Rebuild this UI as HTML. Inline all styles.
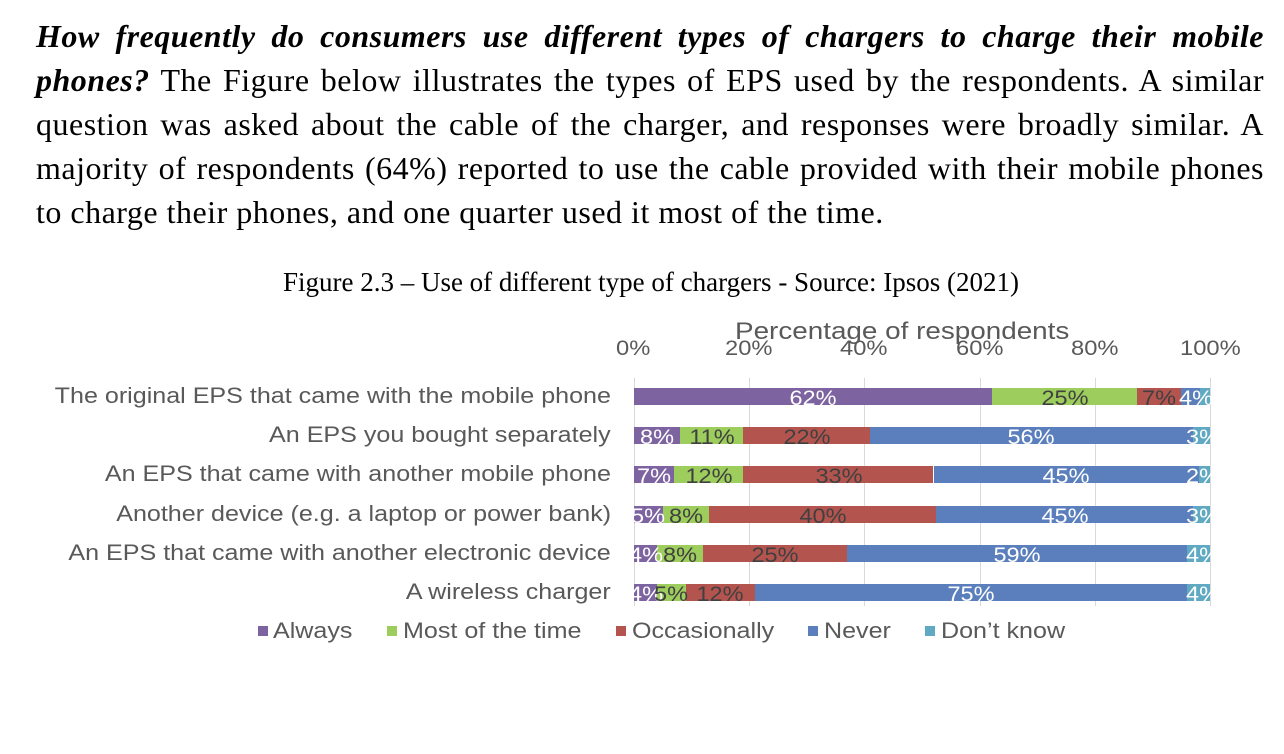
<!DOCTYPE html>
<html><head><meta charset="utf-8"><style>
body{margin:0;width:1284px;height:754px;background:#fff;position:relative;overflow:hidden;font-family:"Liberation Sans",sans-serif}
.p{position:absolute;left:36px;width:1228px;font-family:"Liberation Serif",serif;font-size:32px;letter-spacing:0.5px;line-height:44px;color:#000;top:14px}
.p div{text-align:justify;text-align-last:justify;white-space:nowrap}
.p div.last{text-align-last:left}
.a{position:absolute;white-space:nowrap}
.cat{position:absolute;right:673px;font-size:22px;color:#595959;white-space:nowrap;line-height:26px;transform:scaleX(1.14);transform-origin:right center}
.tick{position:absolute;top:336px;font-size:21px;color:#595959;line-height:26px;transform:scaleX(1.13);transform-origin:left center}
.g{position:absolute;top:378px;height:228px;width:1px;background:#d9d9d9}
.s{position:absolute;height:17px;line-height:17px}
.l{position:absolute;font-size:21px;line-height:17px;white-space:nowrap;transform:translateX(-50%) scaleX(1.12)}
.w{color:#fff}.d{color:#404040}
.lg{position:absolute;top:619px;font-size:22px;color:#595959;line-height:24px;transform:scaleX(1.14);transform-origin:left center;white-space:nowrap}
.sq{position:absolute;top:626px;width:10px;height:10px}
</style></head><body>
<div class="p">
<div><b><i>How frequently do consumers use different types of chargers to charge their mobile</i></b></div>
<div><b><i>phones?</i></b> The Figure below illustrates the types of EPS used by the respondents. A similar</div>
<div>question was asked about the cable of the charger, and responses were broadly similar. A</div>
<div>majority of respondents (64%) reported to use the cable provided with their mobile phones</div>
<div class="last">to charge their phones, and one quarter used it most of the time.</div>
</div>
<div class="a" style="left:0;width:1302px;text-align:center;top:266px;font-family:'Liberation Serif',serif;font-size:27px;line-height:32px">Figure 2.3 – Use of different type of chargers - Source: Ipsos (2021)</div>
<div class="a" style="left:735px;top:318px;font-size:24px;color:#595959;transform:scaleX(1.16);transform-origin:left center">Percentage of respondents</div>
<div class="tick" style="left:616px">0%</div>
<div class="tick" style="left:725px">20%</div>
<div class="tick" style="left:840px">40%</div>
<div class="tick" style="left:956px">60%</div>
<div class="tick" style="left:1071px">80%</div>
<div class="tick" style="left:1180px">100%</div>
<div class="g" style="left:634px"></div><div class="g" style="left:749px"></div><div class="g" style="left:864px"></div><div class="g" style="left:980px"></div><div class="g" style="left:1095px"></div><div class="g" style="left:1210px"></div>
<div class="cat" style="top:383px">The original EPS that came with the mobile phone</div>
<div class="cat" style="top:422px">An EPS you bought separately</div>
<div class="cat" style="top:461px">An EPS that came with another mobile phone</div>
<div class="cat" style="top:501px">Another device (e.g. a laptop or power bank)</div>
<div class="cat" style="top:540px">An EPS that came with another electronic device</div>
<div class="cat" style="top:579px">A wireless charger</div>
<div id="bars"></div>
<script>
var rows=[[62.2,25.1,7.7,3.3,1.7],[8,11,22,56,3],[7,12,33,46,2],[5,8,39.5,44.5,3],[4,8,25,59,4],[4,5,12,75,4]];
var lab=[["62%","25%","7%","4%",""],["8%","11%","22%","56%","3%"],["7%","12%","33%","45%","2%"],["5%","8%","40%","45%","3%"],["4%","8%","25%","59%","4%"],["4%","5%","12%","75%","4%"]];
var col=["#7d64a0","#9dcd5c","#b4544f","#5a7fbc","#5fa9c3"],tc=["w","d","d","w","w"];
var h="";
rows.forEach(function(r,i){var t=[388,427,466,506,545,584][i];var tot=r.reduce(function(a,b){return a+b});var x=634;
r.forEach(function(v,j){var w=v/tot*576;h+='<div class="s" style="left:'+x.toFixed(1)+'px;top:'+t+'px;width:'+w.toFixed(1)+'px;background:'+col[j]+'"></div>';x+=w;});
x=634;r.forEach(function(v,j){var w=v/tot*576;var c=x+w/2;if(i==0&&j==3)c=1196;if(j==4&&i>0)c=1203;if(lab[i][j])h+='<div class="l '+tc[j]+'" style="left:'+c.toFixed(1)+'px;top:'+(t+2)+'px">'+lab[i][j]+'</div>';x+=w;});});
document.getElementById("bars").innerHTML=h;
</script>
<div class="sq" style="left:258px;background:#7d64a0"></div><div class="lg" style="left:273px">Always</div>
<div class="sq" style="left:387px;background:#9dcd5c"></div><div class="lg" style="left:403px">Most of the time</div>
<div class="sq" style="left:616px;background:#b4544f"></div><div class="lg" style="left:632px">Occasionally</div>
<div class="sq" style="left:808px;background:#5a7fbc"></div><div class="lg" style="left:824px">Never</div>
<div class="sq" style="left:925px;background:#5fa9c3"></div><div class="lg" style="left:941px">Don’t know</div>
</body></html>
